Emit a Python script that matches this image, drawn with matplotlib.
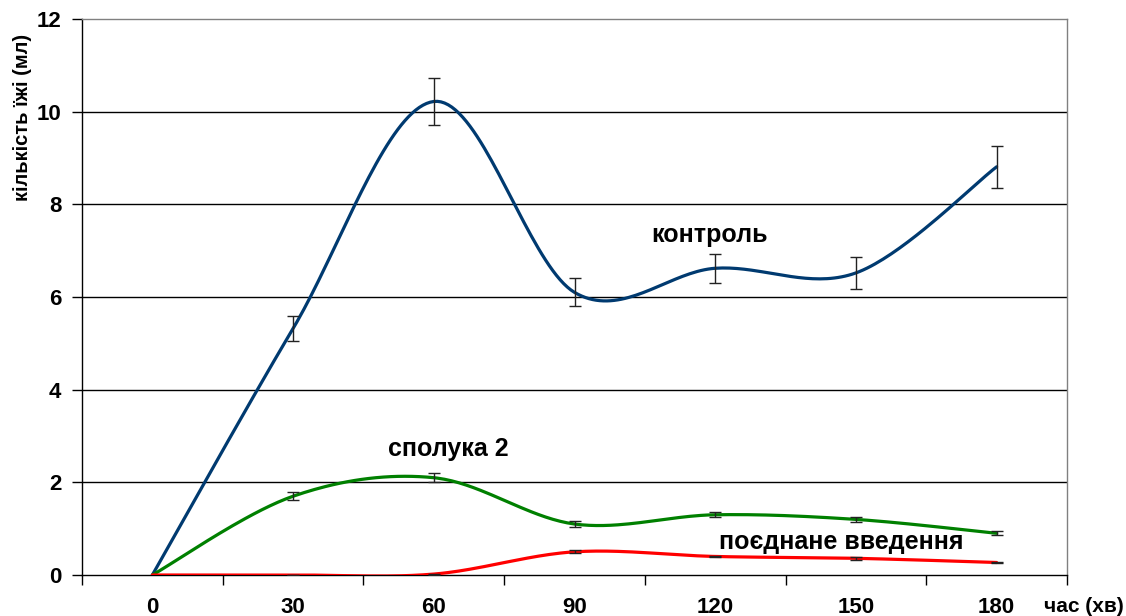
import numpy as np
import matplotlib
matplotlib.use("Agg")
import matplotlib.pyplot as plt

plt.rcParams['font.family'] = ['Liberation Sans', 'DejaVu Sans']

# ---- data ----
time_min = [0, 30, 60, 90, 120, 150, 180]
control = [0.0, 5.32, 10.22, 6.10, 6.62, 6.52, 8.81]
control_err = [0.0, 0.26, 0.51, 0.30, 0.31, 0.34, 0.45]
compound2 = [0.0, 1.70, 2.10, 1.10, 1.30, 1.20, 0.90]
compound2_err = [0.0, 0.09, 0.10, 0.06, 0.05, 0.06, 0.04]
combined = [0.0, 0.0, 0.02, 0.50, 0.40, 0.36, 0.27]
combined_err = [0.0, 0.01, 0.01, 0.03, 0.02, 0.03, 0.02]

x_ticklabels = ['0', '30', '60', '90', '120', '150', '180']
series_labels = ['контроль', 'сполука 2', 'поєднане введення']


def smooth(xs, ys, n=40):
    """Excel-like smoothed line (Catmull-Rom Bezier through the points)."""
    P = np.column_stack([xs, ys]).astype(float)
    out = []
    m = len(P)
    for i in range(m - 1):
        p0 = P[i - 1] if i > 0 else P[i]
        p1 = P[i]
        p2 = P[i + 1]
        p3 = P[i + 2] if i + 2 < m else P[i + 1]
        c1 = p1 + (p2 - p0) / 6.0
        c2 = p2 - (p3 - p1) / 6.0
        t = np.linspace(0, 1, n)[:, None]
        seg = ((1 - t) ** 3) * p1 + 3 * ((1 - t) ** 2) * t * c1 + 3 * (1 - t) * t ** 2 * c2 + t ** 3 * p2
        out.append(seg if i == 0 else seg[1:])
    a = np.vstack(out)
    return a[:, 0], a[:, 1]


fig = plt.figure(figsize=(11.26, 6.16), dpi=100)
ax = fig.add_axes([82 / 1126, 1 - 575 / 616, (1067 - 82) / 1126, (575 - 19) / 616])

ax.set_xlim(-15, 195)
ax.set_ylim(0, 12)

for yv in [2, 4, 6, 8, 10]:
    ax.axhline(yv, color='black', lw=1.0, zorder=1)

colors = ['#003a70', '#008000', '#ff0000']
for ys, es, c in zip([control, compound2, combined],
                     [control_err, compound2_err, combined_err], colors):
    sx, sy = smooth(time_min, ys)
    ax.plot(sx, sy, color=c, lw=2.3, zorder=3, solid_capstyle='round')
    ax.errorbar(time_min[1:], ys[1:], yerr=es[1:], fmt='none', ecolor='#222222',
                elinewidth=1.0, capsize=4, capthick=1.0, zorder=4)

# axes styling
for s in ['top', 'right']:
    ax.spines[s].set_color('#808080')
    ax.spines[s].set_linewidth(1.0)
for s in ['left', 'bottom']:
    ax.spines[s].set_color('black')
    ax.spines[s].set_linewidth(1.0)

ax.set_yticks([0, 2, 4, 6, 8, 10, 12])
ax.set_yticklabels(['0', '2', '4', '6', '8', '10', '12'])
ax.tick_params(axis='y', direction='out', length=7, width=1, pad=8,
               labelsize=16)
for lbl in ax.get_yticklabels():
    lbl.set_fontweight('bold')

ax.set_xticks(time_min)
ax.set_xticklabels(x_ticklabels)
ax.set_xticks(np.arange(-15, 196, 30), minor=True)
ax.tick_params(axis='x', which='major', length=0, pad=16, labelsize=16)
ax.tick_params(axis='x', which='minor', direction='out', length=7, width=1)
for lbl in ax.get_xticklabels():
    lbl.set_fontweight('bold')

fig.text(23 / 1126, 1 - 117 / 616, 'кількість їжі (мл)', fontsize=14.5,
         fontweight='bold', rotation=90, ha='center', va='center')

fig.text(1084 / 1126, 1 - 606 / 616, 'час (хв)', fontsize=15, fontweight='bold',
         ha='center', va='center')

ax.text(118.7, 7.19, series_labels[0], fontsize=18, fontweight='bold', ha='center', va='baseline', zorder=5)
ax.text(63.2, 2.56, series_labels[1], fontsize=18, fontweight='bold', ha='center', va='baseline', zorder=5)
ax.text(146.9, 0.555, series_labels[2], fontsize=18, fontweight='bold', ha='center', va='baseline', zorder=5)

fig.savefig('out.png', dpi=100)
